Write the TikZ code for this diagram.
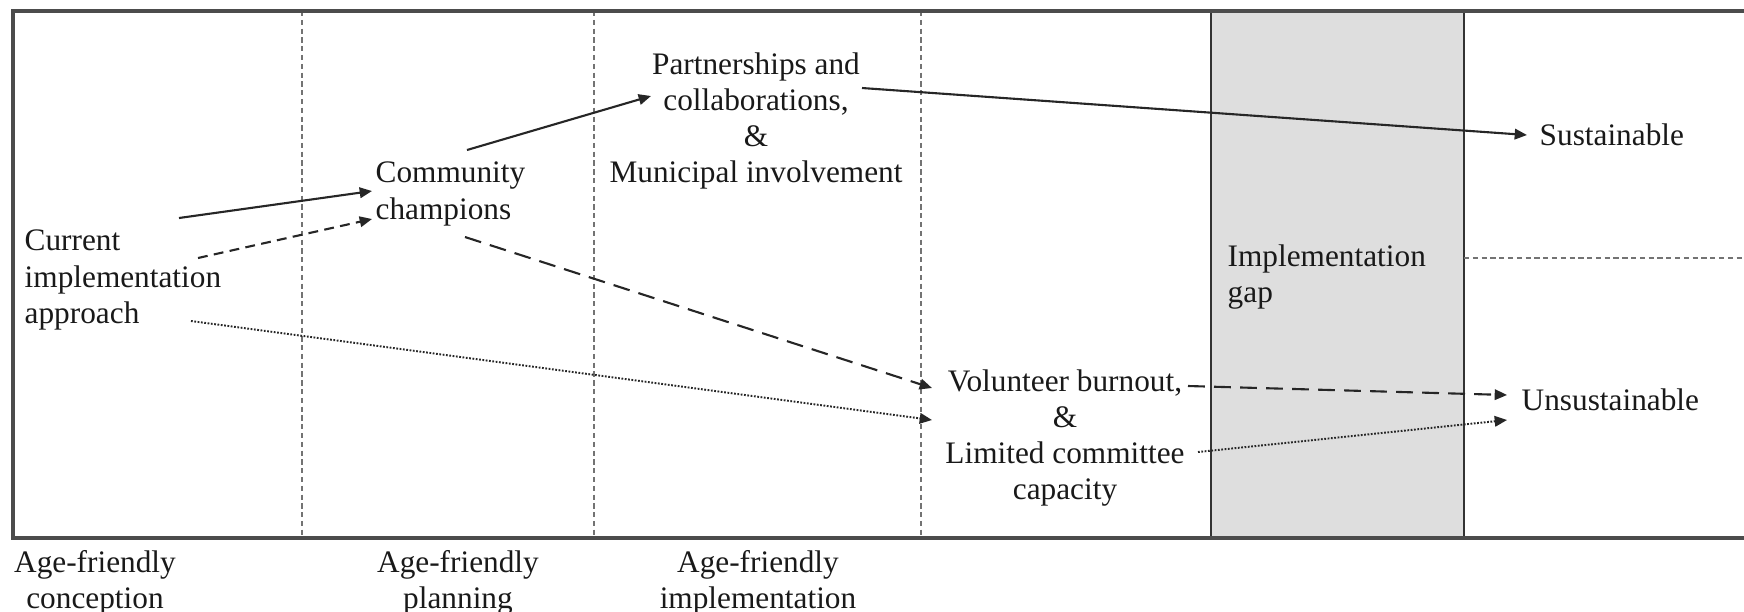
\documentclass[tikz,border=0pt]{standalone}
\usepackage{fontspec}
\setmainfont{Liberation Serif}
\usetikzlibrary{arrows.meta,calc}
\begin{document}
\begin{tikzpicture}[x=0.01cm,y=-0.01cm]
\tikzset{
 lbl/.style={inner sep=0pt, font=\fontsize{8.9}{10.3}\selectfont, text=black!90},
 sepline/.style={black!55, line width=0.35pt, dash pattern=on 1.5pt off 1pt},
 frameline/.style={black!70, line width=0.9pt},
 arr/.style={-{Triangle[length=3.5pt,width=3pt]}, line width=0.6pt, draw=black!85},
 dsh/.style={arr, dash pattern=on 4.8pt off 2.6pt},
 sdsh/.style={arr, dash pattern=on 2.8pt off 1.8pt},
 dot/.style={arr, line width=0.55pt, dash pattern=on 0.5pt off 0.45pt}
}
\useasboundingbox (0,0) rectangle (1744,611);
% implementation gap band
\fill[black!13] (1211,11) rectangle (1464,538);
\draw[black!80, line width=0.7pt] (1211,11) -- (1211,538);
\draw[black!80, line width=0.7pt] (1464,11) -- (1464,538);
% phase separators
\draw[sepline] (302,11) -- (302,538);
\draw[sepline] (594,11) -- (594,538);
\draw[sepline] (921,11) -- (921,538);
\draw[sepline] (1464,258) -- (1744,258);
% frame
\draw[frameline] (1744,11) -- (13,11) -- (13,538) -- (1744,538);
% nodes
\node[lbl, align=left, anchor=west] (cur) at (24,280) {Current\\implementation\\approach};
\node[lbl, align=left, anchor=west] (cc) at (375,194) {Community\\champions};
\node[lbl, align=center] (pm) at (756,121) {Partnerships and\\collaborations,\\\&\\Municipal involvement};
\node[lbl, anchor=west] (sus) at (1539,135) {Sustainable};
\node[lbl, align=center] (vb) at (1065,438) {Volunteer burnout,\\\&\\Limited committee\\capacity};
\node[lbl, anchor=west] (uns) at (1521,400) {Unsustainable};
\node[lbl, align=left, anchor=west] (gap) at (1227,277) {Implementation\\gap};
\node[lbl, align=center] (p1) at (95,583) {Age-friendly\\conception};
\node[lbl, align=center] (p2) at (458,583) {Age-friendly\\planning};
\node[lbl, align=center] (p3) at (758,583) {Age-friendly\\implementation};
% connectors
\draw[arr] ($(cur.west)+(155,-62)$) -- ($(cc.west)+(-3,-3)$);
\draw[sdsh] ($(cur.west)+(174,-22)$) -- ($(cc.west)+(-3,25)$);
\draw[arr] ($(cc.west)+(92,-44)$) -- ($(pm.center)+(-105,-25)$);
\draw[dsh] ($(cc.west)+(90,43)$) -- ($(vb.center)+(-133,-50)$);
\draw[dot] ($(cur.west)+(167,41)$) -- ($(vb.center)+(-133,-18)$);
\draw[arr] ($(pm.center)+(106,-33)$) -- ($(sus.west)+(-12,0)$);
\draw[dsh] ($(vb.center)+(123,-52)$) -- ($(uns.west)+(-14,-5)$);
\draw[dot] ($(vb.center)+(133,14)$) -- ($(uns.west)+(-14,20)$);
\end{tikzpicture}
\end{document}
